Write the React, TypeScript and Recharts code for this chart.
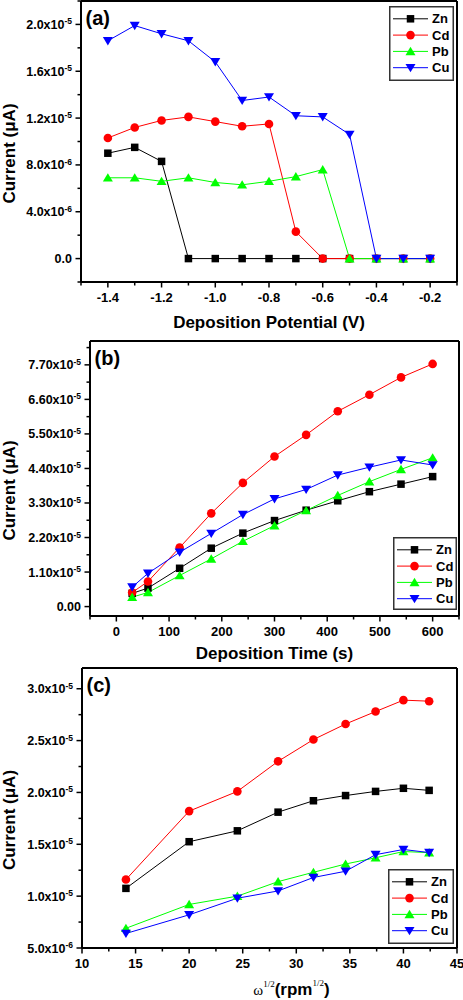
import React from "react";
import { LineChart, Line, XAxis, YAxis, Legend } from "recharts";

const SANS = "'Liberation Sans', Arial, Helvetica, sans-serif";
const SERIF = "'Liberation Serif', 'Times New Roman', serif";

const seriesKeys = ["zn", "cd", "pb", "cu"];
const seriesNames = ["Zn", "Cd", "Pb", "Cu"];
const seriesColors = ["#000000", "#ff0000", "#00ff00", "#0000ff"];
const seriesShapes = ["square", "circle", "up", "down"];

// (a) current vs deposition potential
const potential = [-1.4, -1.3, -1.2, -1.1, -1.0, -0.9, -0.8, -0.7, -0.6, -0.5, -0.4, -0.3, -0.2];
const znA = [9.0e-6, 9.5e-6, 8.3e-6, 0, 0, 0, 0, 0, 0, 0, 0, 0, 0];
const cdA = [10.3e-6, 11.2e-6, 11.8e-6, 12.1e-6, 11.7e-6, 11.3e-6, 11.5e-6, 2.3e-6, 0, 0, 0, 0, 0];
const pbA = [6.9e-6, 6.9e-6, 6.6e-6, 6.9e-6, 6.5e-6, 6.3e-6, 6.6e-6, 7.0e-6, 7.6e-6, 0, 0, 0, 0];
const cuA = [18.6e-6, 19.9e-6, 19.2e-6, 18.6e-6, 16.8e-6, 13.5e-6, 13.8e-6, 12.2e-6, 12.1e-6, 10.6e-6, 0, 0, 0];

const xMajorA = [-1.4, -1.2, -1.0, -0.8, -0.6, -0.4, -0.2];
const xLabelsA = ["-1.4", "-1.2", "-1.0", "-0.8", "-0.6", "-0.4", "-0.2"];
const xMinorA = [-1.5, -1.3, -1.1, -0.9, -0.7, -0.5, -0.3, -0.1];
const yMajorA = [0, 4e-6, 8e-6, 1.2e-5, 1.6e-5, 2.0e-5];
const yLabelsA = ["0.0", "4.0x10^-6", "8.0x10^-6", "1.2x10^-5", "1.6x10^-5", "2.0x10^-5"];
const yMinorA = [-2e-6, 2e-6, 6e-6, 1.0e-5, 1.4e-5, 1.8e-5, 2.2e-5];

// (b) current vs deposition time
const time = [30, 60, 120, 180, 240, 300, 360, 420, 480, 540, 600];
const znB = [4.2e-6, 5.9e-6, 1.22e-5, 1.86e-5, 2.34e-5, 2.74e-5, 3.07e-5, 3.37e-5, 3.66e-5, 3.9e-5, 4.14e-5];
const cdB = [4.5e-6, 8.0e-6, 1.88e-5, 2.97e-5, 3.94e-5, 4.78e-5, 5.47e-5, 6.22e-5, 6.75e-5, 7.3e-5, 7.73e-5];
const pbB = [3.0e-6, 4.5e-6, 9.9e-6, 1.52e-5, 2.08e-5, 2.58e-5, 3.06e-5, 3.54e-5, 3.98e-5, 4.37e-5, 4.74e-5];
const cuB = [6.2e-6, 1.06e-5, 1.73e-5, 2.33e-5, 2.93e-5, 3.43e-5, 3.73e-5, 4.19e-5, 4.44e-5, 4.67e-5, 4.51e-5];

const xMajorB = [0, 100, 200, 300, 400, 500, 600];
const xLabelsB = ["0", "100", "200", "300", "400", "500", "600"];
const xMinorB = [-50, 50, 150, 250, 350, 450, 550, 650];
const yMajorB = [0, 1.1e-5, 2.2e-5, 3.3e-5, 4.4e-5, 5.5e-5, 6.6e-5, 7.7e-5];
const yLabelsB = ["0.00", "1.10x10^-5", "2.20x10^-5", "3.30x10^-5", "4.40x10^-5", "5.50x10^-5", "6.60x10^-5", "7.70x10^-5"];
const yMinorB = [5.5e-6, 1.65e-5, 2.75e-5, 3.85e-5, 4.95e-5, 6.05e-5, 7.15e-5, 8.25e-5];

// (c) current vs square root of rotation rate
const omega = [14.1, 20.0, 24.5, 28.3, 31.6, 34.6, 37.4, 40.0, 42.4];
const znC = [10.75e-6, 15.25e-6, 16.3e-6, 18.1e-6, 19.2e-6, 19.7e-6, 20.1e-6, 20.4e-6, 20.2e-6];
const cdC = [11.6e-6, 18.2e-6, 20.1e-6, 23.0e-6, 25.1e-6, 26.6e-6, 27.8e-6, 28.9e-6, 28.8e-6];
const pbC = [6.9e-6, 9.2e-6, 10.0e-6, 11.4e-6, 12.3e-6, 13.1e-6, 13.7e-6, 14.3e-6, 14.2e-6];
const cuC = [6.4e-6, 8.2e-6, 9.8e-6, 10.5e-6, 11.8e-6, 12.4e-6, 14.0e-6, 14.5e-6, 14.2e-6];

const xMajorC = [10, 15, 20, 25, 30, 35, 40, 45];
const xLabelsC = ["10", "15", "20", "25", "30", "35", "40", "45"];
const xMinorC = [12.5, 17.5, 22.5, 27.5, 32.5, 37.5, 42.5];
const yMajorC = [5e-6, 1.0e-5, 1.5e-5, 2.0e-5, 2.5e-5, 3.0e-5];
const yLabelsC = ["5.0x10^-6", "1.0x10^-5", "1.5x10^-5", "2.0x10^-5", "2.5x10^-5", "3.0x10^-5"];
const yMinorC = [7.5e-6, 1.25e-5, 1.75e-5, 2.25e-5, 2.75e-5];

function rows(x: number[], cols: number[][]) {
  return x.map((v, i) => {
    const r: Record<string, number> = { x: v };
    seriesKeys.forEach((k, j) => (r[k] = cols[j][i]));
    return r;
  });
}

function findTick(list: number[], v: number) {
  return list.findIndex((t) => Math.abs(t - v) <= 1e-9 * (Math.abs(t) + Math.abs(v)) + 1e-30);
}

function Marker({ kind, cx, cy, color }: { kind: string; cx: number; cy: number; color: string }) {
  if (kind === "square") return <rect x={cx - 3.75} y={cy - 3.75} width={7.5} height={7.5} fill={color} />;
  if (kind === "circle") return <circle cx={cx} cy={cy} r={4.3} fill={color} />;
  if (kind === "up")
    return <polygon points={`${cx - 5},${cy + 3.8} ${cx + 5},${cy + 3.8} ${cx},${cy - 4.6}`} fill={color} />;
  return <polygon points={`${cx - 5},${cy - 3.8} ${cx + 5},${cy - 3.8} ${cx},${cy + 4.6}`} fill={color} />;
}

function XTick(props: any) {
  const { x, y, payload, major, labels } = props;
  const i = findTick(major, payload.value);
  return (
    <g>
      <line x1={x} x2={x} y1={y} y2={y + (i >= 0 ? 5.5 : 3.5)} stroke="#000" strokeWidth={1.5} />
      {i >= 0 && (
        <text x={x} y={y + 19.5} textAnchor="middle" fontFamily={SANS} fontWeight="bold" fontSize={13} fill="#000">
          {labels[i]}
        </text>
      )}
    </g>
  );
}

function YTick(props: any) {
  const { x, y, payload, major, labels } = props;
  const i = findTick(major, payload.value);
  const parts = i >= 0 ? String(labels[i]).split("^") : [];
  return (
    <g>
      <line x1={x - (i >= 0 ? 5.5 : 3.5)} x2={x} y1={y} y2={y} stroke="#000" strokeWidth={1.5} />
      {i >= 0 && (
        <text x={x - 9} y={y + 4.5} textAnchor="end" fontFamily={SANS} fontWeight="bold" fontSize={12.5} fill="#000">
          <tspan>{parts[0]}</tspan>
          {parts[1] && (
            <tspan dy={-4.5} fontSize={8.5}>
              {parts[1]}
            </tspan>
          )}
        </text>
      )}
    </g>
  );
}

function LegendBox({ payload, w, h }: any) {
  const items = (payload && payload.length ? [...payload] : seriesNames.map((n, i) => ({ value: n, color: seriesColors[i] }))).sort(
    (a: any, b: any) => seriesNames.indexOf(a.value) - seriesNames.indexOf(b.value)
  );
  return (
    <svg width={w} height={h} style={{ display: "block" }}>
      <rect x={0.75} y={0.75} width={w - 1.5} height={h - 1.5} fill="#fff" stroke="#333" strokeWidth={1.5} />
      {items.map((it: any, i: number) => {
        const cy = 12.8 + i * 16.3;
        const k = seriesNames.indexOf(it.value);
        return (
          <g key={it.value}>
            <line x1={4} x2={39} y1={cy} y2={cy} stroke={seriesColors[k]} strokeWidth={1} />
            <Marker kind={seriesShapes[k]} cx={21.5} cy={cy} color={seriesColors[k]} />
            <text x={43} y={cy + 4.6} fontFamily={SANS} fontWeight="bold" fontSize={13} fill="#000">
              {it.value}
            </text>
          </g>
        );
      })}
    </svg>
  );
}

type PanelProps = {
  top: number;
  height: number;
  plot: { left: number; right: number; top: number; bottom: number };
  data: Record<string, number>[];
  xDomain: [number, number];
  yDomain: [number, number];
  xMajor: number[];
  xMinor: number[];
  xLabels: string[];
  yMajor: number[];
  yMinor: number[];
  yLabels: string[];
  letter: string;
  legend: { x: number; y: number; w: number; h: number };
  xTitle: (cx: number, baseline: number) => React.ReactNode;
  xTitleDy: number;
};

function Panel(p: PanelProps) {
  const W = 463;
  const { left, right, top, bottom } = p.plot;
  const margin = { top: top - 1, right: W - right - 1, bottom: 0, left: 0 };
  const axisLine = { stroke: "#000", strokeWidth: 2 };
  return (
    <div style={{ position: "absolute", left: 0, top: p.top, width: W, height: p.height }}>
      <LineChart width={W} height={p.height} data={p.data} margin={margin}>
        <XAxis
          dataKey="x"
          type="number"
          domain={p.xDomain}
          allowDataOverflow
          ticks={[...p.xMajor, ...p.xMinor]}
          interval={0}
          tickSize={0}
          tickMargin={0}
          tickLine={false}
          axisLine={axisLine}
          height={p.height - bottom}
          tick={(t: any) => <XTick {...t} major={p.xMajor} labels={p.xLabels} />}
          label={() => p.xTitle((left + right) / 2, bottom + p.xTitleDy)}
        />
        <XAxis
          xAxisId="top"
          orientation="top"
          dataKey="x"
          type="number"
          domain={p.xDomain}
          allowDataOverflow
          height={1}
          tick={false}
          tickLine={false}
          axisLine={axisLine}
        />
        <YAxis
          type="number"
          domain={p.yDomain}
          allowDataOverflow
          ticks={[...p.yMajor, ...p.yMinor]}
          interval={0}
          tickSize={0}
          tickMargin={0}
          tickLine={false}
          axisLine={axisLine}
          width={left}
          tick={(t: any) => <YTick {...t} major={p.yMajor} labels={p.yLabels} />}
          label={() => {
            const cy = (top + bottom) / 2 + 12;
            return (
              <g>
                <text
                  x={14.5}
                  y={cy}
                  transform={`rotate(-90, 14.5, ${cy})`}
                  textAnchor="middle"
                  fontFamily={SANS}
                  fontWeight="bold"
                  fontSize={17}
                  fill="#000"
                >
                  Current (μA)
                </text>
                <text x={left + 4.5} y={top + 23.5} fontFamily={SANS} fontWeight="bold" fontSize={20} fill="#000">
                  {p.letter}
                </text>
              </g>
            );
          }}
        />
        <YAxis
          yAxisId="right"
          orientation="right"
          type="number"
          domain={p.yDomain}
          allowDataOverflow
          width={1}
          tick={false}
          tickLine={false}
          axisLine={axisLine}
        />
        {seriesKeys.map((k, i) => (
          <Line
            key={k}
            type="linear"
            dataKey={k}
            name={seriesNames[i]}
            stroke={seriesColors[i]}
            strokeWidth={1}
            dot={(d: any) => (
              <Marker key={`${k}-${d.index}`} kind={seriesShapes[i]} cx={d.cx} cy={d.cy} color={seriesColors[i]} />
            )}
            activeDot={false}
            isAnimationActive={false}
          />
        ))}
        <Legend
          layout="vertical"
          verticalAlign="middle"
          align="center"
          wrapperStyle={{
            position: "absolute",
            left: p.legend.x,
            top: p.legend.y,
            width: p.legend.w,
            height: p.legend.h,
            margin: 0,
            padding: 0,
          }}
          content={(lp: any) => <LegendBox payload={lp.payload} w={p.legend.w} h={p.legend.h} />}
        />
      </LineChart>
    </div>
  );
}

const titleStyle = { fontFamily: SANS, fontWeight: "bold" as const, fontSize: 17, fill: "#000" };

export default function App() {
  return (
    <div style={{ position: "absolute", left: 0, top: 0, width: 463, height: 1000, background: "#fff" }}>
      <Panel
        top={0}
        height={340}
        plot={{ left: 81, right: 457, top: 1, bottom: 282 }}
        data={rows(potential, [znA, cdA, pbA, cuA])}
        xDomain={[-1.5, -0.1]}
        yDomain={[-2e-6, 2.2e-5]}
        xMajor={xMajorA}
        xMinor={xMinorA}
        xLabels={xLabelsA}
        yMajor={yMajorA}
        yMinor={yMinorA}
        yLabels={yLabelsA}
        letter="(a)"
        legend={{ x: 389, y: 6, w: 65, h: 75 }}
        xTitleDy={46}
        xTitle={(cx, b) => (
          <text x={cx} y={b} textAnchor="middle" {...titleStyle}>
            Deposition Potential (V)
          </text>
        )}
      />
      <Panel
        top={320}
        height={345}
        plot={{ left: 90, right: 459, top: 21, bottom: 296 }}
        data={rows(time, [znB, cdB, pbB, cuB])}
        xDomain={[-50, 650]}
        yDomain={[-3e-6, 8.46e-5]}
        xMajor={xMajorB}
        xMinor={xMinorB}
        xLabels={xLabelsB}
        yMajor={yMajorB}
        yMinor={yMinorB}
        yLabels={yLabelsB}
        letter="(b)"
        legend={{ x: 393, y: 217, w: 64, h: 73 }}
        xTitleDy={43}
        xTitle={(cx, b) => (
          <text x={cx} y={b} textAnchor="middle" {...titleStyle}>
            Deposition Time (s)
          </text>
        )}
      />
      <Panel
        top={640}
        height={360}
        plot={{ left: 82, right: 457, top: 28, bottom: 308 }}
        data={rows(omega, [znC, cdC, pbC, cuC])}
        xDomain={[10, 45]}
        yDomain={[5e-6, 3.2e-5]}
        xMajor={xMajorC}
        xMinor={xMinorC}
        xLabels={xLabelsC}
        yMajor={yMajorC}
        yMinor={yMinorC}
        yLabels={yLabelsC}
        letter="(c)"
        legend={{ x: 388, y: 229, w: 66, h: 75 }}
        xTitleDy={47}
        xTitle={(cx, b) => (
          <text x={cx + 22} y={b} textAnchor="middle" fill="#000">
            <tspan fontFamily={SERIF} fontSize={15}>ω</tspan>
            <tspan fontFamily={SERIF} fontSize={9} dy={-8}>1/2</tspan>
            <tspan fontFamily={SANS} fontWeight="bold" fontSize={17} dy={8}>(rpm</tspan>
            <tspan fontFamily={SERIF} fontSize={9} dy={-9}>1/2</tspan>
            <tspan fontFamily={SANS} fontWeight="bold" fontSize={17} dy={9}>)</tspan>
          </text>
        )}
      />
    </div>
  );
}
